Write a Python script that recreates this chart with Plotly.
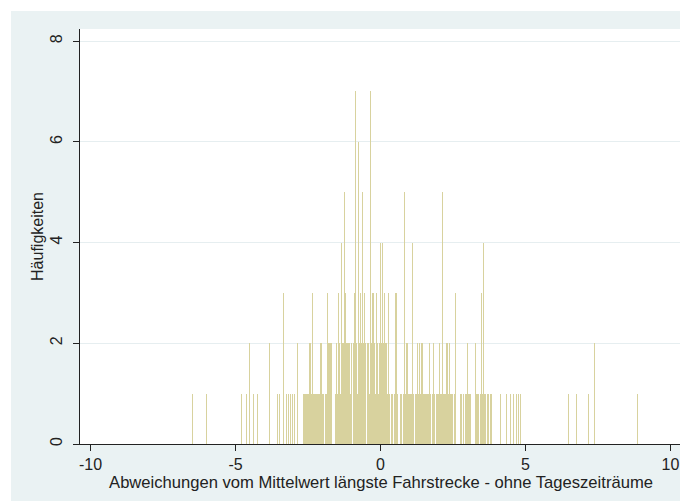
import plotly.graph_objects as go

# Histogram data: left edge of the first bin, bin width (data units), frequencies per bin
bin_start = -6.5
bin_width = 1 / 29
counts = [
    1, 0, 0, 0, 0, 0, 0, 0, 0, 0,
    0, 0, 0, 0, 1, 0, 0, 0, 0, 0,
    0, 0, 0, 0, 0, 0, 0, 0, 0, 0,
    0, 0, 0, 0, 0, 0, 0, 0, 0, 0,
    0, 0, 0, 0, 0, 0, 0, 0, 0, 1,
    0, 0, 0, 0, 1, 0, 0, 2, 0, 0,
    0, 1, 0, 0, 0, 1, 0, 0, 0, 0,
    0, 0, 0, 0, 0, 0, 0, 2, 0, 0,
    0, 0, 0, 0, 0, 1, 0, 1, 0, 0,
    0, 3, 0, 0, 1, 0, 1, 0, 1, 0,
    1, 0, 1, 0, 0, 2, 0, 0, 0, 0,
    0, 1, 1, 1, 1, 1, 1, 2, 2, 1,
    3, 1, 1, 1, 1, 1, 1, 1, 2, 2,
    1, 1, 0, 1, 1, 3, 2, 2, 2, 2,
    0, 0, 0, 1, 2, 1, 3, 2, 1, 4,
    2, 2, 5, 3, 2, 2, 2, 2, 1, 2,
    0, 2, 3, 7, 2, 1, 6, 2, 3, 2,
    5, 2, 3, 2, 0, 2, 2, 1, 7, 2,
    3, 3, 2, 1, 3, 2, 1, 2, 4, 2,
    4, 2, 3, 2, 2, 1, 3, 1, 0, 1,
    1, 0, 1, 3, 3, 1, 0, 0, 1, 1,
    0, 1, 5, 1, 2, 2, 1, 1, 1, 1,
    4, 1, 0, 1, 1, 2, 1, 2, 1, 2,
    2, 1, 1, 1, 1, 1, 1, 2, 1, 0,
    1, 2, 1, 0, 1, 1, 1, 2, 1, 1,
    5, 1, 1, 1, 2, 2, 1, 2, 1, 1,
    1, 0, 1, 3, 0, 0, 0, 0, 1, 1,
    0, 1, 0, 1, 1, 2, 1, 1, 1, 0,
    0, 0, 0, 2, 1, 1, 1, 0, 1, 3,
    1, 4, 1, 1, 0, 1, 1, 0, 1, 1,
    0, 0, 0, 0, 0, 0, 0, 0, 1, 0,
    0, 0, 0, 0, 1, 0, 0, 0, 1, 0,
    0, 1, 0, 0, 1, 0, 1, 0, 1, 0,
    0, 0, 0, 0, 0, 0, 0, 0, 0, 0,
    0, 0, 0, 0, 0, 0, 0, 0, 0, 0,
    0, 0, 0, 0, 0, 0, 0, 0, 0, 0,
    0, 0, 0, 0, 0, 0, 0, 0, 0, 0,
    0, 0, 0, 0, 0, 0, 1, 0, 0, 0,
    0, 0, 0, 0, 1, 0, 0, 0, 0, 0,
    0, 0, 0, 0, 0, 0, 1, 0, 0, 0,
    0, 0, 2, 0, 0, 0, 0, 0, 0, 0,
    0, 0, 0, 0, 0, 0, 0, 0, 0, 0,
    0, 0, 0, 0, 0, 0, 0, 0, 0, 0,
    0, 0, 0, 0, 0, 0, 0, 0, 0, 0,
    0, 0, 0, 0, 0, 1,
]

x_ticks = [-10, -5, 0, 5, 10]
y_ticks = [0, 2, 4, 6, 8]
x_title = "Abweichungen vom Mittelwert längste Fahrstrecke - ohne Tageszeiträume"
y_title = "Häufigkeiten"

centers = [bin_start + (i + 0.5) * bin_width for i in range(len(counts))]
xs = [c for c, n in zip(centers, counts) if n > 0]
ys = [n for n in counts if n > 0]

# the page body adds an 8px margin, so the figure is 8px smaller in each direction
W, H = 680, 493
ml, mr, mt, mb = 72, 6, 21, 57
plot_w = W - ml - mr
plot_h = H - mt - mb
zero_px = 372.5
px_per_unit = 29
x_range = [(ml - zero_px) / px_per_unit, (ml + plot_w - zero_px) / px_per_unit]
y_range = [0, 8.24]

font = "Liberation Sans, Arial, sans-serif"
bar_color = "#d8d29e"
bg = "#eaf2f3"
ink = "#222222"

fig = go.Figure(
    go.Bar(
        x=xs, y=ys, width=bin_width,
        marker=dict(color=bar_color, line=dict(width=0)),
        hoverinfo="x+y",
    )
)

# white strips around the outer graph region (top and left)
strip = 3
left_edge = (strip - ml) / plot_w
top_edge = (plot_h + mt - strip) / plot_h
fig.add_shape(type="rect", xref="paper", yref="paper", x0=-0.3, x1=left_edge,
              y0=-0.3, y1=1.3, fillcolor="white", line=dict(width=0), layer="below")
fig.add_shape(type="rect", xref="paper", yref="paper", x0=-0.3, x1=1.3,
              y0=top_edge, y1=1.3, fillcolor="white", line=dict(width=0), layer="below")

fig.update_layout(
    width=W, height=H,
    margin=dict(l=ml, r=mr, t=mt, b=mb, pad=0),
    paper_bgcolor=bg, plot_bgcolor="white",
    bargap=0, showlegend=False,
    font=dict(family=font, size=16, color=ink),
)
fig.update_xaxes(
    range=x_range, tickvals=x_ticks, ticktext=[str(v) for v in x_ticks],
    ticks="outside", ticklen=6, tickwidth=1.2, tickcolor=ink,
    showline=True, linecolor=ink, linewidth=1.3,
    showgrid=False, zeroline=False,
    tickfont=dict(size=16),
    title=dict(text=x_title, font=dict(size=16.6), standoff=2),
)
fig.update_yaxes(
    range=y_range, tickvals=y_ticks, ticktext=[str(v) for v in y_ticks],
    tickangle=-90, ticklabelstandoff=4,
    ticks="outside", ticklen=6, tickwidth=1.2, tickcolor=ink,
    showline=True, linecolor=ink, linewidth=1.3,
    showgrid=True, gridcolor="#e6eef0", gridwidth=1, zeroline=False,
    tickfont=dict(size=16),
    title=dict(text=y_title, font=dict(size=16), standoff=0),
)

fig.write_html("out.html")
